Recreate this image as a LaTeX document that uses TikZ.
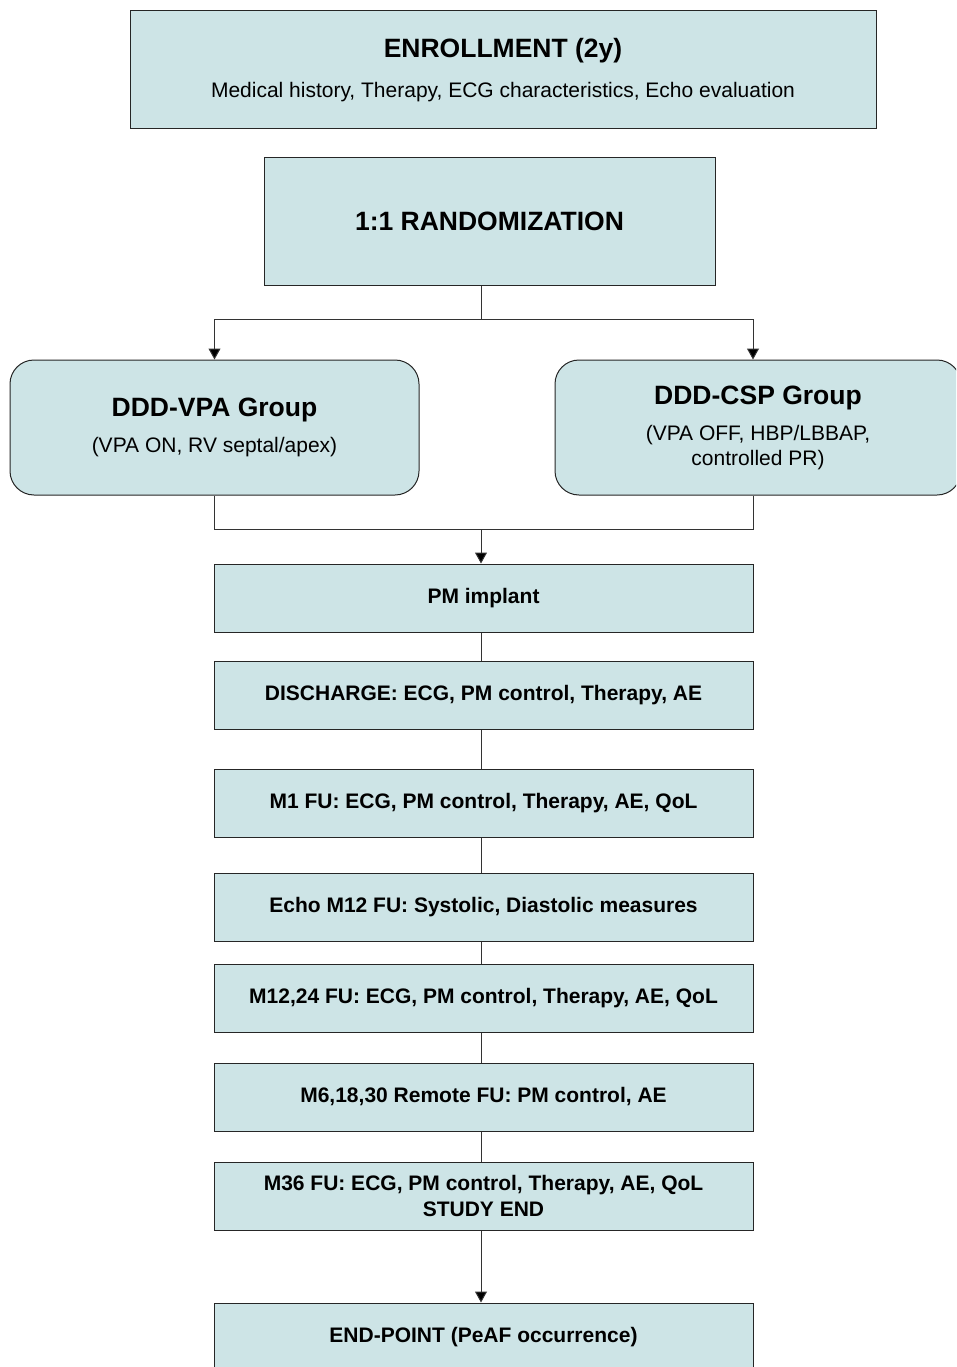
\documentclass[tikz,border=0pt]{standalone}
\usepackage{fontspec}
\setmainfont{Liberation Sans}
\usetikzlibrary{arrows.meta,positioning}
\definecolor{boxfill}{RGB}{205,228,230}
\newcommand{\ttlfnt}{\bfseries\fontsize{26.5}{35}\selectfont}
\newcommand{\subfnt}{\fontsize{21}{25}\selectfont}

\begin{document}
\begin{tikzpicture}[x=1pt,y=-1pt,
  nbase/.style={draw=black!85, fill=boxfill, line width=1pt, inner sep=0pt, align=center},
  nhead/.style={nbase, minimum width=746pt, minimum height=118pt, font=\fontsize{21}{40}\selectfont},
  nrand/.style={nbase, minimum width=451pt, minimum height=127pt, font=\ttlfnt},
  ngrp/.style={nbase, rounded corners=24pt, minimum width=409pt, minimum height=135pt, font=\subfnt},
  nstep/.style={nbase, minimum width=539pt, minimum height=68pt, font=\bfseries\fontsize{21}{26}\selectfont},
  link/.style={draw=black!80, line width=1pt},
  arr/.style={link, -{Triangle[width=12pt,length=11pt,fill=black]}}
 ]
  \useasboundingbox (0,0) rectangle (956,1367);
  \clip (0,0) rectangle (956,1367);

  \node [nhead] (enroll) at (503,70) {{\bfseries\fontsize{26.5}{40}\selectfont ENROLLMENT (2y)}\\
    Medical history, Therapy, ECG characteristics, Echo evaluation};
  \node [nrand] (rand) at (489.5,221.5) {1:1 RANDOMIZATION};

  \node [ngrp] (vpa) at (214.5,427.5) {{\ttlfnt DDD-VPA Group}\\[11pt](VPA ON, RV septal/apex)};
  \node [ngrp, minimum width=406pt] (csp) at (758,427.5)
    {{\ttlfnt DDD-CSP Group}\\[11pt](VPA OFF, HBP/LBBAP,\\controlled PR)};

  \foreach \n/\y/\t in {pm/598/{PM implant},
      dis/695/{DISCHARGE: ECG, PM control, Therapy, AE},
      mone/803/{M1 FU: ECG, PM control, Therapy, AE, QoL},
      echo/907/{Echo M12 FU: Systolic, Diastolic measures},
      mtwo/998/{M12,24 FU: ECG, PM control, Therapy, AE, QoL},
      mrem/1097/{M6,18,30 Remote FU: PM control, AE},
      mend/1196/{M36 FU: ECG, PM control, Therapy, AE, QoL\\STUDY END},
      endp/1337/{END-POINT (PeAF occurrence)}}
   \node [nstep] (\n) at (483.5,\y) {\t};

  \coordinate (split) at (481,319);
  \coordinate (lt) at (214.5,319);
  \coordinate (rt) at (753,319);
  \coordinate (join) at (481,529);

  \draw [link] (rand.south -| split) -- (split);
  \draw [link] (lt) -- (rt);
  \draw [arr] (lt) -- (vpa.north);
  \draw [arr] (rt) -- (rt |- csp.north);
  \draw [link] (vpa.south) |- (join);
  \draw [link] (rt |- csp.south) |- (join);
  \draw [arr] (join) -- (join |- pm.north);

  \foreach \a/\b in {pm/dis, dis/mone, mone/echo, echo/mtwo, mtwo/mrem, mrem/mend}
   \draw [link] (join |- \a.south) -- (join |- \b.north);
  \draw [arr] (join |- mend.south) -- (join |- endp.north);
\end{tikzpicture}
\end{document}
